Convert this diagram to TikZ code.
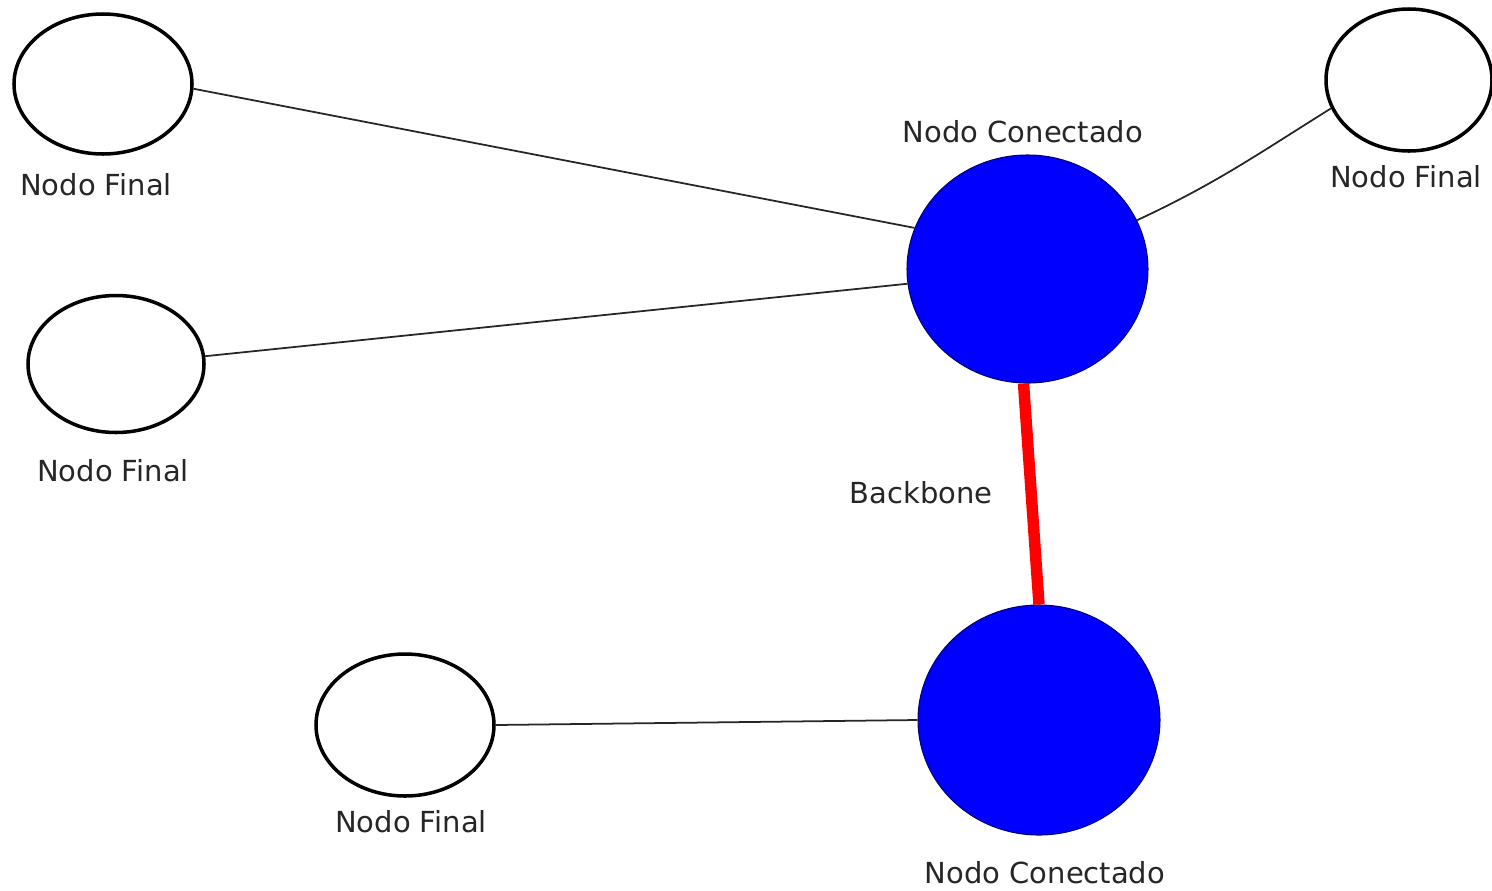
\documentclass[tikz,border=0pt]{standalone}
\usepackage{fontspec}
\setmainfont{DejaVu Sans}
\usetikzlibrary{shapes.geometric}

\begin{document}
\begin{tikzpicture}[
 finalnode/.style={ellipse,draw=black,line width=2pt,fill=white,inner sep=0pt},
 connnode/.style={ellipse,draw=blue!45!black,line width=0.6pt,fill=blue,inner sep=0pt},
 nodelabel/.style={inner sep=0pt,text=black!85,font=\fontsize{16.5}{20}\selectfont},
 link/.style={draw=black!85,line width=1pt},
 backbonelink/.style={draw=red,line width=6.5pt}]
\useasboundingbox (0,0) rectangle (29.84,-17.8);

% nodos conectados
\node[connnode,minimum width=4.82cm,minimum height=4.56cm] (c1) at (20.55,-5.38) {};
\node[connnode,minimum width=4.84cm,minimum height=4.60cm] (c2) at (20.78,-14.40) {};

% nodos finales
\node[finalnode,minimum width=3.56cm,minimum height=2.80cm] (tl) at (2.06,-1.68) {};
\node[finalnode,minimum width=3.52cm,minimum height=2.74cm] (ml) at (2.32,-7.28) {};
\node[finalnode,minimum width=3.56cm,minimum height=2.84cm] (bl) at (8.10,-14.50) {};
\node[finalnode,minimum width=3.32cm,minimum height=2.84cm] (tr) at (28.18,-1.60) {};

% enlaces
\draw[link] (tl.-3) -- (c1.160);
\draw[link] (ml.5) -- (c1.187);
\draw[link] (bl.east) -- (c2.west);
\draw[link] (tr.200) to[out=212,in=25] (c1.24);
\draw[backbonelink] (c1.268) -- (c2.north);

% etiquetas
\node[nodelabel] (tlLabel) at (1.92,-3.70) {Nodo Final};
\node[nodelabel] (mlLabel) at (2.26,-9.42) {Nodo Final};
\node[nodelabel] (blLabel) at (8.22,-16.44) {Nodo Final};
\node[nodelabel] (trLabel) at (28.12,-3.54) {Nodo Final};
\node[nodelabel] (c1Label) at (20.46,-2.64) {Nodo Conectado};
\node[nodelabel] (c2Label) at (20.90,-17.46) {Nodo Conectado};
\node[nodelabel] (bbLabel) at (18.42,-9.86) {Backbone};
\end{tikzpicture}
\end{document}
